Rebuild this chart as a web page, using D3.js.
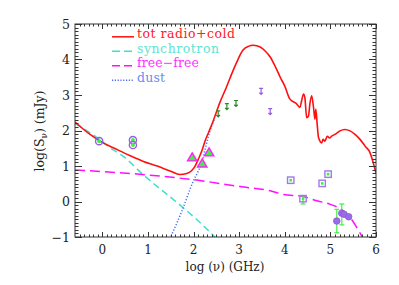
<!DOCTYPE html>
<html>
<head>
<meta charset="utf-8">
<script src="https://cdn.jsdelivr.net/npm/d3@7"></script>
<style>
  body { margin: 0; background: #fff; }
  text { font-family: "DejaVu Serif", "Liberation Serif", serif; }
</style>
</head>
<body>
<script>
const W = 399, H = 285;
const margin = { left: 75, right: 23, top: 24, bottom: 48 };

// curves: [log nu, log S]
const totRadio = [
  [-0.6, 2.24], [-0.27, 1.89], [0.02, 1.65], [0.31, 1.47], [0.61, 1.29], [0.9, 1.13],
  [1.2, 1.0], [1.5, 0.85], [1.7, 0.76], [1.85, 0.79], [1.95, 0.86], [2.03, 0.99],
  [2.1, 1.18], [2.18, 1.42], [2.25, 1.7], [2.34, 1.98], [2.43, 2.27], [2.58, 2.8],
  [2.72, 3.22], [2.87, 3.7], [2.98, 4.02], [3.08, 4.26], [3.2, 4.37], [3.31, 4.4],
  [3.46, 4.35], [3.57, 4.24], [3.68, 4.07], [3.8, 3.78], [3.9, 3.5], [4.0, 3.25],
  [4.11, 2.89], [4.26, 2.75], [4.33, 2.65], [4.37, 2.84], [4.41, 3.03], [4.44, 2.93],
  [4.48, 2.36], [4.52, 2.41], [4.55, 2.75], [4.59, 2.98], [4.63, 2.65], [4.66, 2.32],
  [4.68, 2.6], [4.71, 2.18], [4.74, 1.8], [4.81, 1.65], [4.84, 1.75], [4.88, 1.7],
  [4.93, 1.84], [4.98, 1.79], [5.03, 1.84], [5.1, 1.89], [5.21, 1.99], [5.32, 2.03],
  [5.43, 1.99], [5.54, 1.89], [5.65, 1.75], [5.76, 1.56], [5.87, 1.37], [5.93, 1.13],
  [5.98, 0.9], [6.0, 0.8]
];
const synchrotron = [
  [-0.6, 2.2], [-0.16, 1.84], [0.17, 1.51], [0.46, 1.27], [0.89, 0.76],
  [1.75, -0.15], [2.08, -0.52], [2.47, -1.0]
];
const freeFree = [
  [-0.6, 0.89], [0.97, 0.75], [2.14, 0.59], [3.02, 0.42], [3.68, 0.3], [3.97, 0.2],
  [4.4, 0.14], [4.7, 0.02], [5.0, -0.08], [5.21, -0.2], [5.38, -0.38], [5.5, -0.57],
  [5.6, -0.78], [5.7, -1.0]
];
const dust = [
  [1.48, -1.05], [1.75, -0.25], [1.99, 0.56], [2.1, 0.85], [2.18, 1.08], [2.26, 1.5],
  [2.35, 1.95], [2.45, 2.3]
];

// measured points
const openCircles = [[-0.07, 1.70], [0.67, 1.73], [0.67, 1.59]];
const triangles = [[1.97, 1.22], [2.34, 1.36], [2.19, 1.05]];
const greenLimits = [[2.54, 2.47], [2.73, 2.67], [2.93, 2.76]];
const purpleLimits = [[3.48, 3.10], [3.68, 2.53]];
const squares = [[4.13, 0.60], [4.95, 0.77], [4.82, 0.51], [4.40, 0.08]];
const squareErr = [[4.40, -0.07, 0.16]];
const filledCircles = [[5.14, -0.55], [5.25, -0.33], [5.30, -0.36], [5.40, -0.43]];
const circleErr = [[5.14, -0.88, -0.22], [5.25, -0.66, -0.07]];

const xTicks = [0, 1, 2, 3, 4, 5, 6];
const yTicks = [-1, 0, 1, 2, 3, 4, 5];

const legend = [
  { label: "tot radio+cold", color: "#ff1010", text: "#ff2020", dash: null, len: 98 },
  { label: "synchrotron", color: "#40e0cc", text: "#60e4d4", dash: "8,4", len: 82 },
  { label: "free\u2212free", color: "#ff10ff", text: "#ff30ff", dash: "8,4", len: 62 },
  { label: "dust", color: "#4a6cff", text: "#6a8ef0", dash: "1.2,1.6", len: 28 }
];

const x = d3.scaleLinear().domain([-0.6, 6]).range([margin.left, W - margin.right]);
const y = d3.scaleLinear().domain([-1, 5]).range([H - margin.bottom, margin.top]);

const svg = d3.select("body").append("svg").attr("width", W).attr("height", H);

const plot = svg.append("g");
svg.append("defs").append("clipPath").attr("id", "clip")
  .append("rect")
  .attr("x", x(-0.6)).attr("y", y(5))
  .attr("width", x(6) - x(-0.6)).attr("height", y(-1) - y(5));

const line = d3.line().x((d) => x(d[0])).y((d) => y(d[1])).curve(d3.curveMonotoneX);

const curves = plot.append("g").attr("clip-path", "url(#clip)");
curves.append("path").datum(synchrotron).attr("d", line)
  .attr("fill", "none").attr("stroke", "#40e0cc").attr("stroke-width", 1.5)
  .attr("stroke-dasharray", "7,4");
curves.append("path").datum(freeFree).attr("d", line)
  .attr("fill", "none").attr("stroke", "#ff10ff").attr("stroke-width", 1.5)
  .attr("stroke-dasharray", "10,5");
curves.append("path").datum(dust).attr("d", line)
  .attr("fill", "none").attr("stroke", "#4a6cff").attr("stroke-width", 1.5)
  .attr("stroke-dasharray", "1.2,1.8");
curves.append("path").datum(totRadio).attr("d", line)
  .attr("fill", "none").attr("stroke", "#ff1010").attr("stroke-width", 1.6);

// error bars
const errs = plot.append("g").attr("stroke", "#44ee44").attr("stroke-width", 1.2);
errs.selectAll("g").data(circleErr.concat(squareErr)).join("g")
  .each(function ([vx, lo, hi]) {
    const g = d3.select(this);
    g.append("line").attr("x1", x(vx)).attr("x2", x(vx)).attr("y1", y(lo)).attr("y2", y(hi));
    g.append("line").attr("x1", x(vx) - 2.5).attr("x2", x(vx) + 2.5).attr("y1", y(lo)).attr("y2", y(lo));
    g.append("line").attr("x1", x(vx) - 2.5).attr("x2", x(vx) + 2.5).attr("y1", y(hi)).attr("y2", y(hi));
  });

// open circles
plot.selectAll("g.oc").data(openCircles).join("g").attr("class", "oc")
  .attr("transform", (d) => `translate(${x(d[0])},${y(d[1])})`)
  .call((g) => {
    g.append("circle").attr("r", 3.6).attr("fill", "none").attr("stroke", "#9a5ae8").attr("stroke-width", 1.4);
    g.append("circle").attr("r", 2).attr("fill", "#44ee44");
  });

// triangles
const tri = d3.symbol().type(d3.symbolTriangle).size(38);
plot.selectAll("g.tr").data(triangles).join("g").attr("class", "tr")
  .attr("transform", (d) => `translate(${x(d[0])},${y(d[1])})`)
  .call((g) => {
    g.append("path").attr("d", tri).attr("fill", "#44ee44").attr("stroke", "#ff20ff").attr("stroke-width", 1.4);
  });

// upper limits
function limitMarks(data, color) {
  plot.selectAll(null).data(data).join("path")
    .attr("transform", (d) => `translate(${x(d[0])},${y(d[1])})`)
    .attr("d", "M-2,-3H2M0,-3V3M-1.8,1.2L0,3L1.8,1.2")
    .attr("fill", "none").attr("stroke", color).attr("stroke-width", 1.2);
}
limitMarks(greenLimits, "#2a8a2a");
limitMarks(purpleLimits, "#9a5ae8");

// squares
plot.selectAll("g.sq").data(squares).join("g").attr("class", "sq")
  .attr("transform", (d) => `translate(${x(d[0])},${y(d[1])})`)
  .call((g) => {
    g.append("rect").attr("x", -3.2).attr("y", -3.2).attr("width", 6.4).attr("height", 6.4)
      .attr("fill", "none").attr("stroke", "#a07ae8").attr("stroke-width", 1.4);
    g.append("rect").attr("x", -1.3).attr("y", -1.3).attr("width", 2.6).attr("height", 2.6)
      .attr("fill", "#44ee44");
  });

// filled circles
plot.selectAll("circle.fc").data(filledCircles).join("circle").attr("class", "fc")
  .attr("cx", (d) => x(d[0])).attr("cy", (d) => y(d[1])).attr("r", 3.3)
  .attr("fill", "#9a6ae8").attr("stroke", "#8a5ad8").attr("stroke-width", 0.8);

// axes box with inward ticks
const axisColor = "#333";
const box = svg.append("g").attr("stroke", axisColor).attr("stroke-width", 1).attr("fill", "none");
box.append("rect").attr("x", x(-0.6)).attr("y", y(5))
  .attr("width", x(6) - x(-0.6)).attr("height", y(-1) - y(5));

const xMinor = d3.range(-5, 61).map((i) => i / 10);
const yMinor = d3.range(-10, 51).map((i) => i / 10);
const isMajor = (v) => Math.abs(v - Math.round(v)) < 1e-6;

box.selectAll(null).data(xMinor).join("path")
  .attr("d", (v) => {
    const L = isMajor(v) ? 5 : 2.5;
    const px = Math.round(x(v)) + 0.5;
    return `M${px},${y(-1)}v${-L}M${px},${y(5)}v${L}`;
  });
box.selectAll(null).data(yMinor).join("path")
  .attr("d", (v) => {
    const L = isMajor(v) ? 7 : 3.5;
    const py = Math.round(y(v)) + 0.5;
    return `M${x(-0.6)},${py}h${L}M${x(6)},${py}h${-L}`;
  });

// tick labels
svg.append("g").selectAll("text").data(xTicks).join("text")
  .attr("x", (d) => x(d)).attr("y", y(-1) + 17)
  .attr("text-anchor", "middle").attr("font-size", 12).attr("fill", "#222")
  .text((d) => d);
svg.append("g").selectAll("text").data(yTicks).join("text")
  .attr("x", x(-0.6) - 5).attr("y", (d) => y(d) + 4.5)
  .attr("text-anchor", "end").attr("font-size", 12.5).attr("fill", "#222")
  .text((d) => (d < 0 ? "\u2212" + Math.abs(d) : d));

// axis titles
svg.append("text").attr("x", 225).attr("y", 271).attr("text-anchor", "middle")
  .attr("font-size", 12).attr("fill", "#222")
  .text("log (\u03bd) (GHz)");
const yl = svg.append("text").attr("transform", "translate(44,131) rotate(-90)")
  .attr("text-anchor", "middle").attr("font-size", 12.5).attr("fill", "#222");
yl.append("tspan").text("log(S");
yl.append("tspan").attr("font-size", 9).attr("dy", 3).text("\u03bd");
yl.append("tspan").attr("dy", -3).text(") (mJy)");

// legend
const lg = svg.append("g").selectAll("g").data(legend).join("g")
  .attr("transform", (d, i) => `translate(0,${38.3 + i * 14.5})`);
lg.append("line").attr("x1", 112).attr("x2", 134).attr("y1", -1.5).attr("y2", -1.5)
  .attr("stroke", (d) => d.color).attr("stroke-width", 1.5)
  .attr("stroke-dasharray", (d) => d.dash);
lg.append("text").attr("x", 137).attr("y", 0)
  .attr("font-size", 12.5).attr("fill", (d) => d.text)
  .attr("textLength", (d) => d.len).attr("lengthAdjust", "spacing")
  .text((d) => d.label);
</script>
</body>
</html>
